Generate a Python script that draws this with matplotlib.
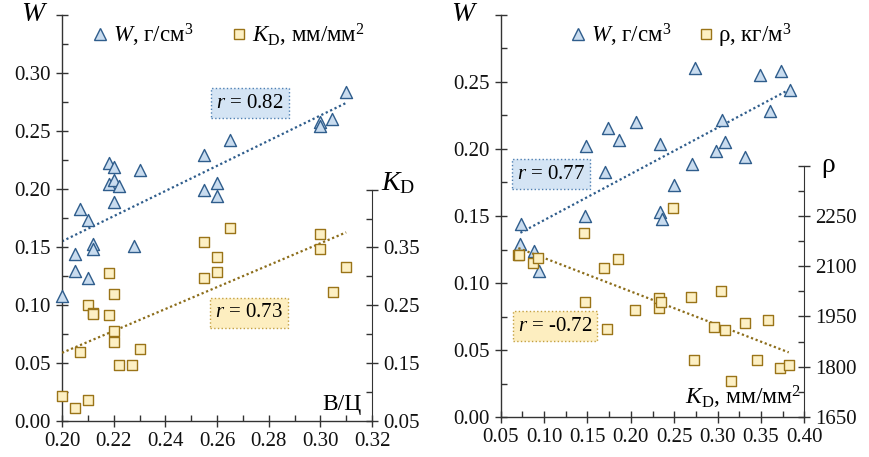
import numpy as np
import matplotlib
matplotlib.use('Agg')
import matplotlib.pyplot as plt
from matplotlib.ticker import MultipleLocator, FixedLocator, FixedFormatter
from matplotlib.lines import Line2D

plt.rcParams['font.family'] = ['Liberation Serif', 'DejaVu Serif']
plt.rcParams['mathtext.fontset'] = 'custom'
plt.rcParams['mathtext.rm'] = 'Liberation Serif'
plt.rcParams['mathtext.it'] = 'Liberation Serif:italic'

# left panel: W and K_D against В/Ц
vc_w = [0.310, 0.3045, 0.300, 0.300, 0.265, 0.255, 0.260, 0.255, 0.260, 0.218,
        0.220, 0.230, 0.218, 0.220, 0.222, 0.220, 0.207, 0.210, 0.212, 0.212,
        0.205, 0.228, 0.205, 0.210, 0.200]
w_left = [0.284, 0.260, 0.258, 0.254, 0.242, 0.229, 0.205, 0.199, 0.194, 0.222,
          0.219, 0.216, 0.204, 0.208, 0.203, 0.189, 0.183, 0.173, 0.153, 0.148,
          0.144, 0.151, 0.129, 0.1235, 0.108]

vc_k = [0.265, 0.300, 0.300, 0.310, 0.305, 0.255, 0.260, 0.260, 0.255, 0.218,
        0.220, 0.210, 0.212, 0.212, 0.218, 0.220, 0.220, 0.207, 0.230, 0.222,
        0.227, 0.200, 0.205, 0.210]
kd_left = [0.3835, 0.374, 0.348, 0.317, 0.273, 0.360, 0.333, 0.308, 0.298, 0.306,
           0.270, 0.251, 0.237, 0.235, 0.233, 0.206, 0.186, 0.170, 0.175, 0.147,
           0.146, 0.094, 0.073, 0.087]

# right panel: W and rho against K_D
kd_w = [0.274, 0.349, 0.373, 0.384, 0.360, 0.305, 0.308, 0.298, 0.332, 0.270,
        0.250, 0.206, 0.174, 0.186, 0.148, 0.234, 0.170, 0.147, 0.234, 0.236,
        0.073, 0.0727, 0.088, 0.094]
w_right = [0.2605, 0.2555, 0.2585, 0.2438, 0.2285, 0.2218, 0.2055, 0.1988, 0.1938, 0.1888,
           0.173, 0.2198, 0.216, 0.2068, 0.2025, 0.2038, 0.183, 0.150, 0.153, 0.148,
           0.144, 0.129, 0.124, 0.1087]

kd_rho = [0.249, 0.146, 0.0704, 0.0715, 0.087, 0.0934, 0.1695, 0.185, 0.147, 0.173,
          0.205, 0.2325, 0.2325, 0.2349, 0.269, 0.304, 0.296, 0.308, 0.332, 0.358,
          0.273, 0.346, 0.315, 0.372, 0.382]
rho = [2273, 2198, 2132, 2134, 2110, 2125, 2093, 2120, 1992, 1913,
       1969, 2004, 1974, 1992, 2009, 2026, 1918, 1910, 1930, 1939,
       1819, 1821, 1758, 1797, 1806]

blue_face, blue_edge = '#c9dcef', '#2f5d8c'
gold_face, gold_edge = '#fdf0c4', '#9a7418'
line_blue, line_gold = '#2f5d8c', '#8c6d1a'
spine_c = '#333333'
fs = 15


def trend(ax, x, y, color):
    k, b = np.polyfit(x, y, 1)
    xs = np.array([min(x), max(x)])
    ax.plot(xs, k * xs + b, ls=(0, (1, 1.2)), color=color, lw=1.6, zorder=1)


def style_axes(ax):
    for s in ['top', 'right']:
        ax.spines[s].set_visible(False)
    for s in ['left', 'bottom']:
        ax.spines[s].set_color(spine_c)
        ax.spines[s].set_linewidth(1.0)
    ax.tick_params(which='major', direction='inout', length=9, width=1.0,
                   color=spine_c, labelsize=fs, labelcolor='#111111')
    ax.tick_params(which='minor', direction='in', length=4.5, width=1.0, color=spine_c)
    ax.patch.set_visible(False)


def style_twin(ax2, lo, hi):
    for s in ['top', 'left', 'bottom']:
        ax2.spines[s].set_visible(False)
    ax2.spines['right'].set_bounds(lo, hi)
    ax2.spines['right'].set_color(spine_c)
    ax2.tick_params(which='major', direction='inout', length=9, width=1.0,
                    color=spine_c, labelsize=fs, labelcolor='#111111')
    ax2.tick_params(which='minor', direction='in', length=4.5, width=1.0, color=spine_c)


def r_box(ax, x, y, txt, fc, ec):
    ax.text(x, y, txt, fontsize=15, ha='center', va='center', zorder=4,
            bbox=dict(boxstyle='square,pad=0.25', fc=fc, ec=ec, ls=':', lw=1.0))


fig = plt.figure(figsize=(8.7, 4.57), dpi=100)

# ---------- left panel ----------
ax = fig.add_axes([0.0713, 0.0788, 0.3563, 0.8884])
ax2 = ax.twinx()
style_axes(ax)
style_twin(ax2, 0.05, 0.45)

ax.set_xlim(0.20, 0.32)
ax.set_ylim(0, 0.35)
xt_l = np.arange(0.20, 0.321, 0.02)
ax.xaxis.set_major_locator(FixedLocator(xt_l))
ax.xaxis.set_major_formatter(FixedFormatter(['%.2f' % v for v in xt_l]))
ax.xaxis.set_minor_locator(MultipleLocator(0.01))
yt = np.arange(0, 0.351, 0.05)
ax.yaxis.set_major_locator(FixedLocator(yt))
ax.yaxis.set_major_formatter(FixedFormatter(['%.2f' % v for v in yt[:-1]] + ['']))
ax.yaxis.set_minor_locator(MultipleLocator(0.025))

ax2.set_ylim(0.05, 0.752)
kt = np.arange(0.05, 0.451, 0.1)
ax2.yaxis.set_major_locator(FixedLocator(kt))
ax2.yaxis.set_major_formatter(FixedFormatter(['%.2f' % v for v in kt[:-1]] + ['']))
ax2.yaxis.set_minor_locator(FixedLocator(np.arange(0.10, 0.41, 0.1)))

trend(ax, vc_w, w_left, line_blue)
trend(ax2, vc_k, kd_left, line_gold)
ax.scatter(vc_w, w_left, marker='^', s=75, facecolor=blue_face, edgecolor=blue_edge,
           linewidth=1.0, zorder=3, clip_on=False)
ax2.scatter(vc_k, kd_left, marker='s', s=55, facecolor=gold_face, edgecolor=gold_edge,
            linewidth=1.0, zorder=3, clip_on=False)

ax.text(-0.045, 1.0, '$W$', transform=ax.transAxes, fontsize=20, ha='right', va='center')
ax2.text(1.03, 0.585, r'$K_\mathrm{D}$', transform=ax.transAxes, fontsize=20, ha='left', va='center')
ax.text(0.965, 0.04, 'В/Ц', transform=ax.transAxes, fontsize=17, ha='right', va='center')

r_box(ax, 0.2728, 0.274, '$r$ = 0.82', '#d4e4f4', '#4f80b3')
r_box(ax, 0.2724, 0.0931, '$r$ = 0.73', '#fdeec0', '#c4a040')

h1 = Line2D([], [], marker='^', ls='', ms=9, mfc=blue_face, mec=blue_edge)
h2 = Line2D([], [], marker='s', ls='', ms=7, mfc=gold_face, mec=gold_edge)
ax.legend([h1, h2], ['$W$, г/см$^3$', r'$K_\mathrm{D}$, мм/мм$^2$'], ncol=2, loc='upper left',
          bbox_to_anchor=(0.02, 1.035), frameon=False, fontsize=16.5, handletextpad=0.05,
          columnspacing=1.5, handlelength=1.0)

# ---------- right panel ----------
bx = fig.add_axes([0.5755, 0.0875, 0.349, 0.8797])
bx2 = bx.twinx()
style_axes(bx)
style_twin(bx2, 1650, 2400)

bx.set_xlim(0.05, 0.40)
bx.set_ylim(0, 0.30)
xt = np.arange(0.05, 0.401, 0.05)
bx.xaxis.set_major_locator(FixedLocator(xt))
bx.xaxis.set_major_formatter(FixedFormatter(['%.2f' % v for v in xt]))
bx.xaxis.set_minor_locator(MultipleLocator(0.025))
wt = np.arange(0, 0.301, 0.05)
bx.yaxis.set_major_locator(FixedLocator(wt))
bx.yaxis.set_major_formatter(FixedFormatter(['%.2f' % v for v in wt[:-1]] + ['']))
bx.yaxis.set_minor_locator(MultipleLocator(0.025))

bx2.set_ylim(1650, 2849)
rt = np.arange(1650, 2401, 150)
bx2.yaxis.set_major_locator(FixedLocator(rt))
bx2.yaxis.set_major_formatter(FixedFormatter(['%d' % v for v in rt[:-1]] + ['']))
bx2.yaxis.set_minor_locator(FixedLocator(np.arange(1725, 2400, 150)))

trend(bx, kd_w, w_right, line_blue)
trend(bx2, kd_rho, rho, line_gold)
bx.scatter(kd_w, w_right, marker='^', s=75, facecolor=blue_face, edgecolor=blue_edge,
           linewidth=1.0, zorder=3, clip_on=False)
bx2.scatter(kd_rho, rho, marker='s', s=55, facecolor=gold_face, edgecolor=gold_edge,
            linewidth=1.0, zorder=3, clip_on=False)

bx.text(-0.12, 1.0, '$W$', transform=bx.transAxes, fontsize=20, ha='center', va='center')
bx2.text(1.08, 0.626, 'ρ', transform=bx.transAxes, fontsize=20, ha='center', va='center')
bx.text(0.99, 0.05, r'$K_\mathrm{D}$, мм/мм$^2$', transform=bx.transAxes, fontsize=17,
        ha='right', va='center')

r_box(bx, 0.108, 0.1813, '$r$ = 0.77', '#d4e4f4', '#4f80b3')
r_box(bx, 0.1126, 0.0679, '$r$ = -0.72', '#fdeec0', '#c4a040')

bx.legend([h1, h2], ['$W$, г/см$^3$', 'ρ, кг/м$^3$'], ncol=2, loc='upper left',
          bbox_to_anchor=(0.15, 1.035), frameon=False, fontsize=16.5, handletextpad=0.05,
          columnspacing=1.0, handlelength=1.0)

fig.savefig('out.png', dpi=100)
